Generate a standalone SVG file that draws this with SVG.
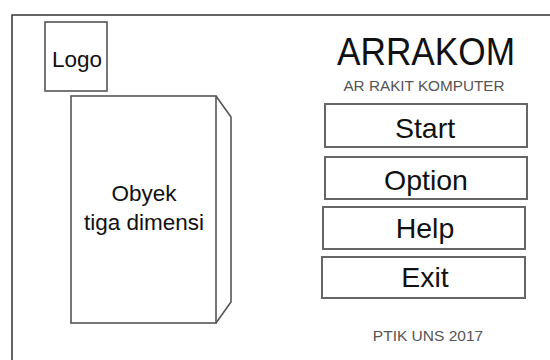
<svg xmlns="http://www.w3.org/2000/svg" width="550" height="360" viewBox="0 0 550 360">
<style>
text{font-family:"Liberation Sans",Arial,sans-serif;text-anchor:middle;fill:#111}
.box{fill:#fff;stroke:#555;stroke-width:1.6}
.btn{fill:#fff;stroke:#666;stroke-width:2}
.btxt{font-size:28.5px}
.gray{fill:#555}
</style>
<rect width="550" height="360" fill="#fff"/>
<path d="M12,360 V15 H550" fill="none" stroke="#333" stroke-width="1.5"/>
<g id="logo">
<rect class="box" x="45" y="22" width="62" height="69"/>
<text x="77" y="67" font-size="22.5">Logo</text>
</g>
<g id="object3d">
<path class="box" d="M216,96 L231,117 V302 L216,323"/>
<rect class="box" x="71" y="96" width="145" height="227"/>
<text x="144" y="201" font-size="22.5">Obyek</text>
<text x="144" y="230" font-size="22.5">tiga dimensi</text>
</g>
<g id="title">
<text x="426" y="65" font-size="38" textLength="178" lengthAdjust="spacingAndGlyphs">ARRAKOM</text>
<text x="424" y="91" font-size="15.3" class="gray">AR RAKIT KOMPUTER</text>
</g>
<g id="start">
<rect class="btn" x="325" y="104" width="202" height="43"/>
<text class="btxt" x="425" y="138">Start</text>
</g>
<g id="option">
<rect class="btn" x="325" y="157" width="202" height="42"/>
<text class="btxt" x="426" y="190">Option</text>
</g>
<g id="help">
<rect class="btn" x="323" y="207" width="202" height="42"/>
<text class="btxt" x="425" y="238">Help</text>
</g>
<g id="exit">
<rect class="btn" x="322" y="257" width="203" height="41"/>
<text class="btxt" x="425" y="287">Exit</text>
</g>
<g id="footer">
<text x="428" y="341" font-size="15.5" class="gray">PTIK UNS 2017</text>
</g>
<g id="connectors"></g>
</svg>
